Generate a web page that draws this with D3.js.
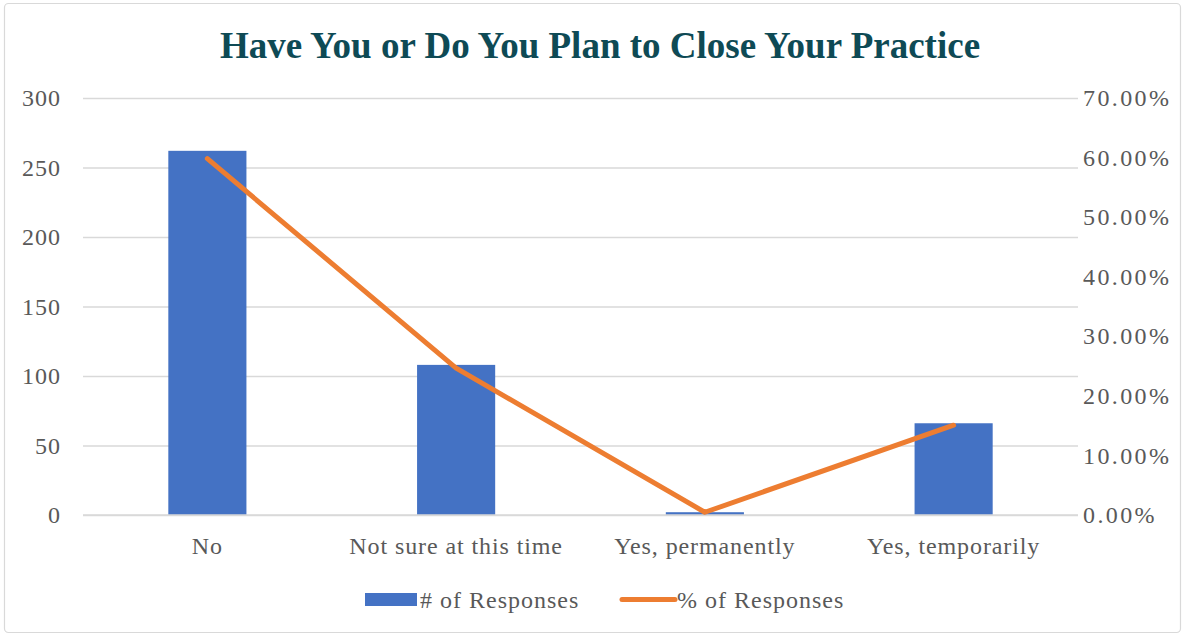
<!DOCTYPE html>
<html><head><meta charset="utf-8">
<script src="https://cdn.jsdelivr.net/npm/d3@7"></script>
<style>body{margin:0;background:#fff}svg{display:block}text{font-family:"Liberation Serif","DejaVu Serif",serif}</style>
</head><body><svg id="c" width="1185" height="637"></svg>
<script>
const categories = ["No", "Not sure at this time", "Yes, permanently", "Yes, temporarily"];
const responses = [262, 108, 2, 66];
const percents = [59.82, 24.66, 0.46, 15.07];
const leftTicks = [0, 50, 100, 150, 200, 250, 300];
const rightTicks = [0, 10, 20, 30, 40, 50, 60, 70];
const seriesNames = ["# of Responses", "% of Responses"];
const title = "Have You or Do You Plan to Close Your Practice";

const svg = d3.select("#c");
const W = 1185, H = 637;
const m = {l: 83, r: 1078, t: 98, b: 515};
const fs = 24;
svg.append("rect").attr("x", 4.5).attr("y", 3.5).attr("width", W - 9).attr("height", H - 8)
  .attr("fill", "#fff").attr("stroke", "#d9d9d9").attr("stroke-width", 1.2).attr("rx", 4);

const x = d3.scaleBand().domain(categories).range([m.l, m.r]).paddingInner(0.686).paddingOuter(0.343);
const xc = d3.scaleBand().domain(categories).range([m.l, m.r]);
const yL = d3.scaleLinear().domain([0, 300]).range([m.b, m.t]);
const yR = d3.scaleLinear().domain([0, 70]).range([m.b, m.t]);

// gridlines
const gGrid = svg.append("g").attr("transform", `translate(${m.l},0)`)
  .call(d3.axisLeft(yL).tickValues(leftTicks).tickSize(-(m.r - m.l)).tickFormat(""));
gGrid.select(".domain").remove();
gGrid.selectAll("line").attr("stroke", "#d9d9d9").attr("stroke-width", 1.3);

// left axis labels
const gL = svg.append("g").attr("transform", `translate(${m.l},0)`)
  .call(d3.axisLeft(yL).tickValues(leftTicks).tickSize(0).tickPadding(22));
gL.select(".domain").remove();
gL.selectAll("text").attr("font-size", fs).attr("fill", "#595959").attr("font-family", "Liberation Serif")
  .attr("letter-spacing", 1);

// right axis labels
const gR = svg.append("g").attr("transform", `translate(${m.r},0)`)
  .call(d3.axisRight(yR).tickValues(rightTicks).tickSize(0).tickPadding(5).tickFormat(d => d.toFixed(2) + "%"));
gR.select(".domain").remove();
gR.selectAll("text").attr("font-size", fs).attr("fill", "#595959").attr("font-family", "Liberation Serif")
  .attr("letter-spacing", 2.4);

// bars
svg.append("g").selectAll("rect").data(responses).join("rect")
  .attr("x", (d, i) => x(categories[i])).attr("width", x.bandwidth())
  .attr("y", d => yL(d)).attr("height", d => yL(0) - yL(d)).attr("fill", "#4472C4");

// baseline
svg.append("line").attr("x1", m.l).attr("x2", m.r).attr("y1", m.b).attr("y2", m.b)
  .attr("stroke", "#d9d9d9").attr("stroke-width", 1.3);

// line
const line = d3.line().x((d, i) => xc(categories[i]) + xc.bandwidth() / 2).y(d => yR(d));
svg.append("path").datum(percents).attr("d", line).attr("fill", "none")
  .attr("stroke", "#ED7D31").attr("stroke-width", 5).attr("stroke-linecap", "round").attr("stroke-linejoin", "round");

// x axis labels
const gX = svg.append("g").attr("transform", `translate(0,${m.b})`)
  .call(d3.axisBottom(xc).tickSize(0).tickPadding(22));
gX.select(".domain").remove();
gX.selectAll("text").attr("font-size", fs).attr("fill", "#595959").attr("font-family", "Liberation Serif")
  .attr("letter-spacing", 0.9);

// title
svg.append("text").attr("x", 600).attr("y", 58).attr("text-anchor", "middle")
  .attr("font-size", 37).attr("font-weight", "bold").attr("fill", "#0E4A55").text(title);

// legend
const lg = svg.append("g");
lg.append("rect").attr("x", 365).attr("y", 593).attr("width", 52).attr("height", 13).attr("fill", "#4472C4");
lg.append("text").attr("x", 420).attr("y", 608).attr("font-size", fs).attr("fill", "#595959")
  .attr("letter-spacing", 1).text(seriesNames[0]);
lg.append("line").attr("x1", 622).attr("x2", 675).attr("y1", 599.5).attr("y2", 599.5)
  .attr("stroke", "#ED7D31").attr("stroke-width", 5).attr("stroke-linecap", "round");
lg.append("text").attr("x", 677).attr("y", 608).attr("font-size", fs).attr("fill", "#595959")
  .attr("letter-spacing", 1).text(seriesNames[1]);
</script></body></html>
